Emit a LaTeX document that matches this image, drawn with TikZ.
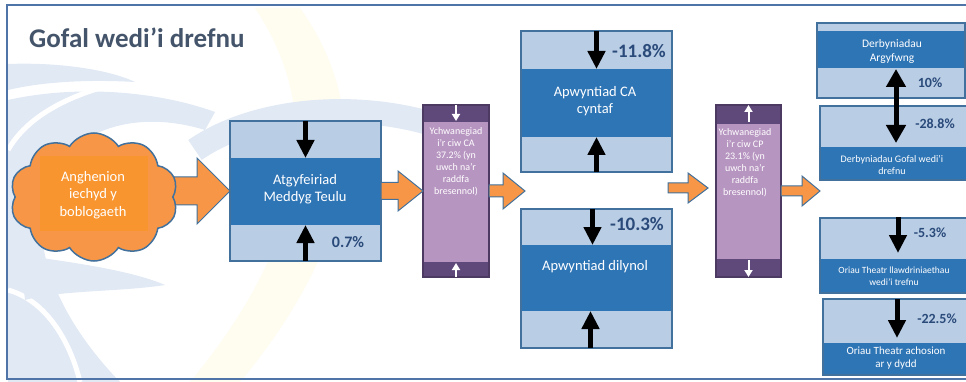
\documentclass[tikz,border=0pt]{standalone}
\usepackage{fontspec}
\setmainfont{Carlito}
\usetikzlibrary{arrows.meta,shapes.symbols,calc}
\definecolor{dblue}{HTML}{2E75B6}
\definecolor{lblue}{HTML}{B9CDE5}
\definecolor{bord}{HTML}{41719C}
\definecolor{pct}{HTML}{2A4A7A}
\definecolor{pdark}{HTML}{5F497A}
\definecolor{plight}{HTML}{B795C1}
\definecolor{orng}{HTML}{F79646}
\definecolor{orng2}{HTML}{F9952E}
\definecolor{titlec}{HTML}{44546A}
\definecolor{framec}{HTML}{4F75A8}
\definecolor{bgb}{HTML}{E1E9F4}
\definecolor{bgy}{HTML}{FFFDF0}
\newcommand\fsz[2]{\fontsize{#1}{#2}\selectfont}
\newcommand\bandbox[7]{%
  \node[boxnode, minimum width={#4-#2}, minimum height={#5-#3}, anchor=north west] (#1) at (#2,#3) {};
  \fill[dblue] (#2,#6) rectangle (#4,#7);
  \draw[bord, line width=1.3] (#2,#3) rectangle (#4,#5);}
\newcommand\purplebox[7]{%
  \node[pnode, minimum width={#4-#2}, minimum height={#5-#3}, anchor=north west] (#1) at (#2,#3) {};
  \fill[pdark] (#2,#3) rectangle (#4,#6);
  \fill[pdark] (#2,#7) rectangle (#4,#5);
  \draw[pdark!80!black, line width=1.3] (#2,#3) rectangle (#4,#5);}
\newcommand\barrow[5]{%
  \filldraw[blockar] let \p1=#1, \p2=#2 in
  (\x1,{\y2+#3}) -- ({\x2-#5},{\y2+#3}) -- ({\x2-#5},{\y2+#4}) -- (\x2,\y2)
  -- ({\x2-#5},{\y2-#4}) -- ({\x2-#5},{\y2-#3}) -- (\x1,{\y2-#3}) -- cycle;}
\begin{document}
\begin{tikzpicture}[x=1pt,y=-1pt,
  boxnode/.style={rectangle, fill=lblue, inner sep=0pt, outer sep=0pt},
  pnode/.style={rectangle, fill=plight, inner sep=0pt, outer sep=0pt},
  blockar/.style={fill=orng, draw=bord, line width=1},
  wtext/.style={text=white, align=center, inner sep=0pt},
  pctb/.style={text=pct, font=\bfseries\fsz{16}{18}, inner sep=0pt},
  pcts/.style={text=pct, font=\bfseries\fsz{14}{16}, inner sep=0pt},
  barr/.style={draw=black, line width=4.5, -{Triangle[width=17pt,length=18pt]}},
  warr/.style={draw=white, line width=2, -{Triangle[width=8pt,length=7pt]}},
  bgband/.style={draw=bgb, line cap=butt}]
\useasboundingbox (0,0) rectangle (966,382);
\clip (0,0) rectangle (966,382);
\fill[white] (0,0) rectangle (966,382);
% background decoration
\fill[bgy] (255,8) .. controls (330,120) and (300,250) .. (190,382) -- (240,382) .. controls (350,250) and (380,120) .. (300,8) -- cycle;
\fill[bgb] (8,64) .. controls (60,62) and (110,70) .. (135,82) .. controls (100,80) and (50,80) .. (8,90) -- cycle;
\fill[bgb] (8,100) .. controls (80,84) and (160,92) .. (215,112) -- (205,130) .. controls (140,110) and (70,125) .. (45,190) .. controls (30,250) and (60,320) .. (120,382) -- (8,382) -- cycle;
\draw[white, line width=5] (8,290) .. controls (45,300) and (70,340) .. (80,382);
\draw[white, line width=5] (100,88) .. controls (60,100) and (25,120) .. (8,150);
\draw[bgband, line width=24] (195,150) .. controls (260,105) and (370,100) .. (450,130);
\fill[bgb] (20,255) .. controls (70,262) and (130,270) .. (165,285) .. controls (120,292) and (60,290) .. (25,300) -- cycle;
% frame
\draw[framec, line width=2] (7,5) rectangle (975,379);
% title
\node[anchor=base west, inner sep=0pt, text=titlec, font=\bfseries\fsz{27}{30}] (title) at (29,48) {Gofal wedi’i drefnu};
% boxes
\bandbox{gp}{230}{121}{381}{261}{158}{225}
\bandbox{ca1}{521}{31}{672}{172}{69}{137}
\bandbox{ca2}{521}{209}{672}{348}{245}{311}
\bandbox{ra}{817}{23}{965}{98}{31}{68}
\bandbox{rb}{820}{106}{975}{180}{147}{180}
\bandbox{rc}{820}{218}{975}{293}{259}{293}
\bandbox{rd}{823}{299}{975}{375}{343}{375}
\purplebox{p1}{423}{105}{489}{277}{122}{262}
\purplebox{p2}{716}{105}{781}{277}{124}{259}
% block arrows
\coordinate (split) at (525,191);
\coordinate (a4s) at (668,188);
\coordinate (a4e) at (708,188);
\coordinate (a5e) at (820,191);
\barrow{($(gp.west)+(-60,0)$)}{(gp.west)}{14pt}{33pt}{33pt}
\barrow{(gp.east)}{(p1.west)}{8.5pt}{20pt}{25pt}
\barrow{(p1.east)}{(split)}{6pt}{18pt}{22pt}
\barrow{(a4s)}{(a4e)}{5pt}{15pt}{20pt}
\barrow{(p2.east)}{(a5e)}{5pt}{15pt}{18pt}
% cloud
\node[cloud, cloud puffs=10, cloud puff arc=115, aspect=1.38, minimum width=168, minimum height=128,
      fill=orng, draw=bord, line width=1.5, inner sep=0pt] (cloud) at (94,197) {};
\fill[orng2] (40,156) rectangle (148,231);
\node[wtext, font=\fsz{14.5}{17.5}] (cloudtxt) at (93,195) {Anghenion\\iechyd y\\boblogaeth};
% GP box
\node[wtext, font=\fsz{14.5}{17}] (gptxt) at (305,189) {Atgyfeiriad\\Meddyg Teulu};
\draw[barr] (gp.north) -- (gp.north |- 0,158);
\draw[barr] (gp.south) -- (gp.south |- 0,225);
\node[pctb] (gppct) at (348,242) {0.7\%};
% CA boxes
\node[wtext, font=\fsz{14.5}{17}] (ca1txt) at (595,101) {Apwyntiad CA\\cyntaf};
\draw[barr] (ca1.north) -- (ca1.north |- 0,69);
\draw[barr] (ca1.south) -- (ca1.south |- 0,137);
\node[text=pct, font=\bfseries\fsz{19}{21}, inner sep=0pt] (ca1pct) at (639,51) {-11.8\%};
\node[wtext, font=\fsz{14.5}{17}] (ca2txt) at (595,267) {Apwyntiad dilynol};
\draw[barr] ($(ca2.north)+(-4,0)$) -- ($(ca2.north |- 0,245)+(-4,0)$);
\draw[barr] ($(ca2.south)+(-6,0)$) -- ($(ca2.south |- 0,311)+(-6,0)$);
\node[text=pct, font=\bfseries\fsz{19}{21}, inner sep=0pt] (ca2pct) at (637,224) {-10.3\%};
% purple boxes
\node[wtext, font=\fsz{10}{12}] (p1txt) at (456,162) {Ychwanegiad\\i’r ciw CA\\37.2\% (yn\\uwch na’r\\raddfa\\bresennol)};
\draw[warr] (p1.north) -- (p1.north |- 0,121);
\draw[warr] (p1.south) -- (p1.south |- 0,263);
\node[wtext, font=\fsz{10}{12}] (p2txt) at (745,163) {Ychwanegiad\\i’r ciw CP\\23.1\% (yn\\uwch na’r\\raddfa\\bresennol)};
\draw[warr] (p2.north |- 0,122) -- (p2.north);
\draw[warr] (p2.south |- 0,260) -- (p2.south);
% right column
\node[wtext, font=\fsz{11.5}{14}] (ratxt) at (892,51) {Derbyniadau\\Argyfwng};
\node[pcts] (rapct) at (930,83) {10\%};
\node[pcts] (rbpct) at (935,124) {-28.8\%};
\node[wtext, font=\fsz{10}{12.5}] (rbtxt) at (892,165) {Derbyniadau Gofal wedi’i\\drefnu};
\draw[draw=black, line width=5, {Triangle[width=19pt,length=18pt]}-{Triangle[width=19pt,length=18pt]}] (896,69) -- (896,143);
\draw[barr, line width=5] (898,217) -- (898,253);
\node[pcts] (rcpct) at (930,233) {-5.3\%};
\node[wtext, font=\fsz{9.5}{12.5}] (rctxt) at (894,276) {Oriau Theatr llawdriniaethau\\wedi’i trefnu};
\draw[barr, line width=5] (rd.north -| 897,0) -- (897,338);
\node[pcts] (rdpct) at (937,319) {-22.5\%};
\node[wtext, font=\fsz{11}{12.5}] (rdtxt) at (896,358) {Oriau Theatr achosion\\ar y dydd};
\end{tikzpicture}
\end{document}
